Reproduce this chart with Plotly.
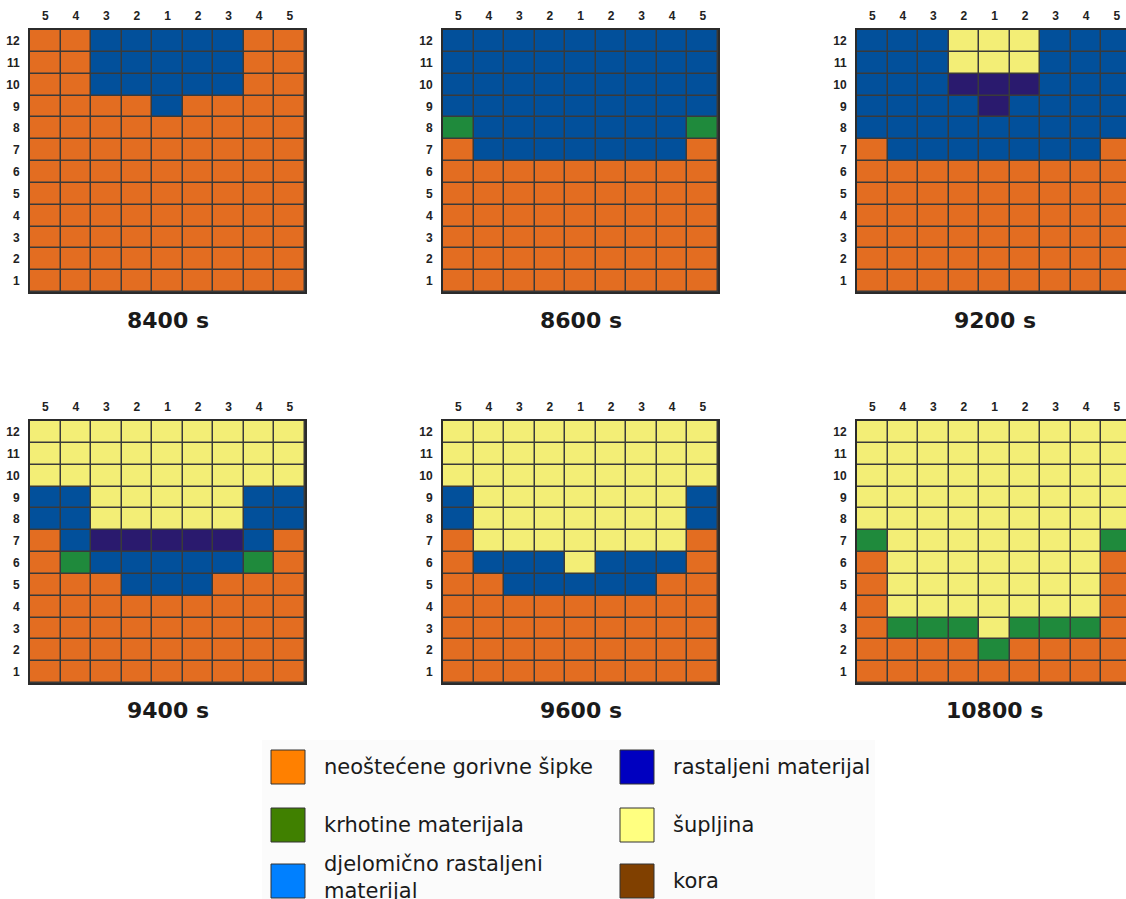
import plotly.graph_objects as go

W, H = 1126, 899

# ---------------- data ----------------
# category codes: O = neoštećene gorivne šipke, G = krhotine materijala,
# B = djelomično rastaljeni materijal, P = rastaljeni materijal,
# Y = šupljina, K = kora
col_labels = ["5", "4", "3", "2", "1", "2", "3", "4", "5"]
row_labels = [str(i) for i in range(1, 13)]
titles = ["8400 s", "8600 s", "9200 s", "9400 s", "9600 s", "10800 s"]

# rows listed top (12) to bottom (1)
grid_8400 = ["OOBBBBBOO", "OOBBBBBOO", "OOBBBBBOO", "OOOOBOOOO",
             "OOOOOOOOO", "OOOOOOOOO", "OOOOOOOOO", "OOOOOOOOO",
             "OOOOOOOOO", "OOOOOOOOO", "OOOOOOOOO", "OOOOOOOOO"]
grid_8600 = ["BBBBBBBBB", "BBBBBBBBB", "BBBBBBBBB", "BBBBBBBBB",
             "GBBBBBBBG", "OBBBBBBBO", "OOOOOOOOO", "OOOOOOOOO",
             "OOOOOOOOO", "OOOOOOOOO", "OOOOOOOOO", "OOOOOOOOO"]
grid_9200 = ["BBBYYYBBB", "BBBYYYBBB", "BBBPPPBBB", "BBBBPBBBB",
             "BBBBBBBBB", "OBBBBBBBO", "OOOOOOOOO", "OOOOOOOOO",
             "OOOOOOOOO", "OOOOOOOOO", "OOOOOOOOO", "OOOOOOOOO"]
grid_9400 = ["YYYYYYYYY", "YYYYYYYYY", "YYYYYYYYY", "BBYYYYYBB",
             "BBYYYYYBB", "OBPPPPPBO", "OGBBBBBGO", "OOOBBBOOO",
             "OOOOOOOOO", "OOOOOOOOO", "OOOOOOOOO", "OOOOOOOOO"]
grid_9600 = ["YYYYYYYYY", "YYYYYYYYY", "YYYYYYYYY", "BYYYYYYYB",
             "BYYYYYYYB", "OYYYYYYYO", "OBBBYBBBO", "OOBBBBBOO",
             "OOOOOOOOO", "OOOOOOOOO", "OOOOOOOOO", "OOOOOOOOO"]
grid_10800 = ["YYYYYYYYY", "YYYYYYYYY", "YYYYYYYYY", "YYYYYYYYY",
              "YYYYYYYYY", "GYYYYYYYG", "OYYYYYYYO", "OYYYYYYYO",
              "OYYYYYYYO", "OGGGYGGGO", "OOOOGOOOO", "OOOOOOOOO"]
grids = [grid_8400, grid_8600, grid_9200, grid_9400, grid_9600, grid_10800]

cat_codes = ["O", "G", "B", "P", "Y", "K"]
cat_names = ["neoštećene gorivne šipke", "krhotine materijala",
             "djelomično rastaljeni<br>materijal", "rastaljeni materijal",
             "šupljina", "kora"]
cell_colors = ["#E36D21", "#1F8A3C", "#02509B", "#2A1A6E", "#F3EE76", "#7A3E00"]
legend_colors = ["#FF8000", "#408000", "#0080FF", "#0000C0", "#FFFF80", "#804000"]

# ---------------- layout geometry (pixels) ----------------
grid_lefts = [30, 443, 857]
grid_tops = [30, 421]
grid_w, grid_h = 275, 262
title_y = [320, 710]

n = len(cat_codes)
colorscale = []
for i, c in enumerate(cell_colors):
    colorscale.append([i / n, c])
    colorscale.append([(i + 1) / n, c])

def px(x):
    return x / W

def py(y):
    return 1 - y / H

tickfont = dict(family="Liberation Sans, Arial", size=12, color="#222")
fig = go.Figure()
annotations = []
shapes = []

for k, g in enumerate(grids):
    r, c = divmod(k, 3)
    left, top = grid_lefts[c], grid_tops[r]
    right = left + grid_w
    z = [[cat_codes.index(ch) for ch in row] for row in reversed(g)]
    ax = "" if k == 0 else str(k + 1)
    fig.add_trace(go.Heatmap(
        z=z, x=list(range(9)), y=list(range(1, 13)),
        colorscale=colorscale, zmin=-0.5, zmax=n - 0.5,
        showscale=False, xgap=1.5, ygap=1.5, hoverinfo="skip",
        xaxis="x" + ax, yaxis="y" + ax))
    xmax = -0.5 + 9 * (min(right, W) - left) / grid_w
    xa = dict(domain=[px(left), px(min(right, W))], range=[-0.5, xmax],
              anchor="y" + ax, side="top", tickmode="array",
              tickvals=list(range(9)), ticktext=["<b>%s</b>" % t for t in col_labels],
              showgrid=False, zeroline=False, ticks="", ticklabelstandoff=3,
              showline=True, mirror=True, linecolor="#2b2b2b", linewidth=2,
              tickfont=tickfont, fixedrange=True)
    ya = dict(domain=[py(top + grid_h), py(top)], range=[0.5, 12.5],
              anchor="x" + ax, tickmode="array", tickvals=list(range(1, 13)),
              ticktext=["<b>%s</b>" % t for t in row_labels],
              showgrid=False, zeroline=False, ticks="", ticklabelstandoff=6,
              showline=True, mirror=(right <= W), linecolor="#2b2b2b", linewidth=2,
              tickfont=tickfont, fixedrange=True)
    fig.layout["xaxis" + ax] = xa
    fig.layout["yaxis" + ax] = ya
    annotations.append(dict(
        text="<b>" + titles[k] + "</b>", xref="paper", yref="paper",
        x=px(left + grid_w / 2), y=py(title_y[r]), xanchor="center", yanchor="middle",
        showarrow=False, font=dict(family="DejaVu Sans", size=22, color="#1a1a1a")))

# ---------------- legend ----------------
leg_cols = [271, 620]
leg_rows = [767, 825, 881]
sw = 34
shapes.append(dict(type="rect", xref="paper", yref="paper",
                   x0=px(262), x1=px(875), y0=py(899), y1=py(740),
                   fillcolor="#FBFBFB", line=dict(width=0), layer="below"))
for i in range(n):
    col, row = divmod(i, 3)
    lx, cy = leg_cols[col], leg_rows[row]
    shapes.append(dict(type="rect", xref="paper", yref="paper",
                       x0=px(lx), x1=px(lx + sw), y0=py(cy + sw / 2), y1=py(cy - sw / 2),
                       fillcolor=legend_colors[i], line=dict(color="#333", width=1)))
    ty = cy - 4 if "<br>" in cat_names[i] else cy
    annotations.append(dict(
        text=cat_names[i], xref="paper", yref="paper", x=px(lx + 51), y=py(ty),
        xanchor="left", yanchor="middle", align="left", showarrow=False,
        font=dict(family="DejaVu Sans", size=21, color="#1a1a1a")))

fig.update_layout(width=W, height=H, margin=dict(l=0, r=0, t=0, b=0),
                  paper_bgcolor="white", plot_bgcolor="#3a3a3a",
                  annotations=annotations, shapes=shapes, showlegend=False)

fig.write_html("out.html", config={"displayModeBar": False},
               post_script="document.documentElement.style.margin='0';"
                           "document.body.style.margin='0';"
                           "document.body.style.overflow='hidden';")
